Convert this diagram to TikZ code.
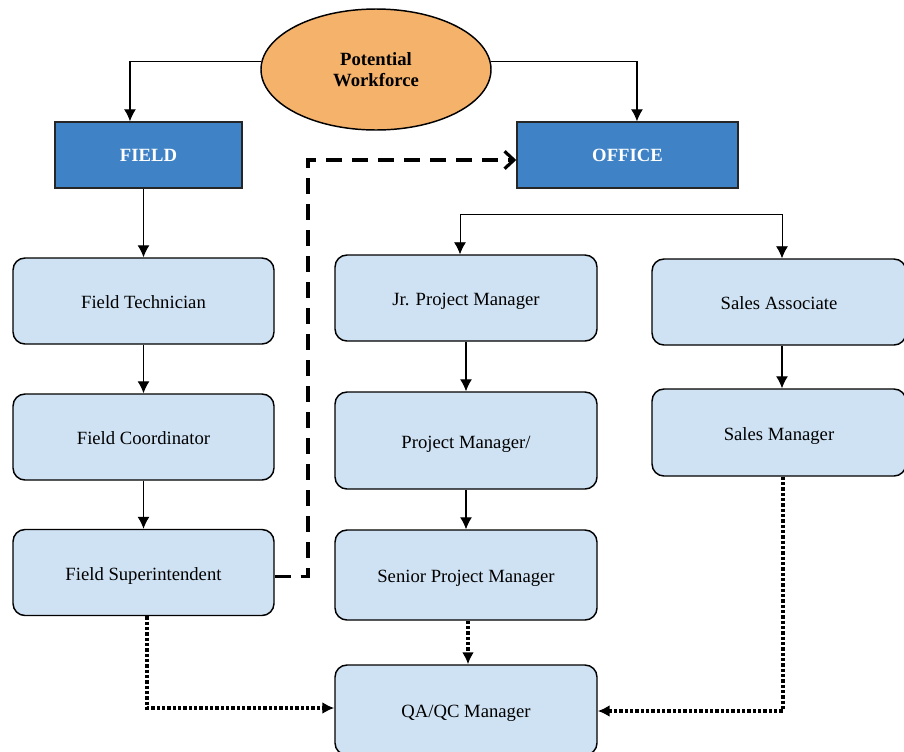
\documentclass[tikz,border=0pt]{standalone}
\usepackage{fontspec}
\setmainfont{Liberation Serif}
\usetikzlibrary{shapes.geometric,arrows.meta}
\definecolor{wforange}{HTML}{F5B26B}
\definecolor{deptblue}{HTML}{3F83C6}
\definecolor{roleblue}{HTML}{CFE2F3}
\begin{document}
\begin{tikzpicture}[x=0.75pt, y=-0.75pt, >={Latex[length=9pt,width=9pt]},
    font=\fontsize{14}{16}\selectfont,
    role/.style={draw, line width=1.1pt, fill=roleblue, rounded corners=9pt, minimum width=195.75pt, minimum height=64.5pt, inner sep=0pt, text height=12.5pt, text depth=1pt},
    dept/.style={draw=black!85, line width=1.1pt, fill=deptblue, text=white, font=\fontsize{14}{16}\selectfont\bfseries, minimum height=49.5pt},
    link/.style={->, line width=0.8pt},
    dotlink/.style={->, line width=2.3pt, dash pattern=on 2.5pt off 1.5pt},
    ]
    \useasboundingbox (0,0) rectangle (904,751);

    \node[ellipse, draw, line width=1.1pt, fill=wforange, minimum width=172.5pt, minimum height=90.75pt, inner sep=0pt, align=center, font=\fontsize{14}{16}\selectfont\bfseries] (pw) at (376,69.5) {Potential\\Workforce};
    \node[dept, minimum width=140.25pt] (field) at (148.5,155) {FIELD};
    \node[dept, minimum width=165.75pt] (office) at (627.5,155) {OFFICE};

    \node[role] (tech) at (143.5,301) {Field Technician};
    \node[role] (coord) at (143.5,437) {Field Coordinator};
    \node[role] (super) at (143.5,572.5) {Field Superintendent};

    \node[role, minimum width=196.5pt] (jpm) at (466,298) {Jr. Project Manager};
    \node[role, minimum width=196.5pt, minimum height=72.75pt] (pm) at (466,440.5) {Project Manager/};
    \node[role, minimum width=196.5pt, minimum height=67.5pt] (spm) at (466,575) {Senior Project Manager};
    \node[role, minimum width=196.5pt, minimum height=67.5pt] (qa) at (466,710) {QA/QC Manager};

    \node[role, minimum width=190.5pt] (sales) at (779,302) {Sales Associate};
    \node[role, minimum width=190.5pt, minimum height=65.25pt] (salesmgr) at (779,432.5) {Sales Manager};

    \draw[link] (pw.176) -| ([xshift=-13.9pt]field.north);
    \draw[link] (pw.4) -| ([xshift=7.1pt]office.north);

    \draw[link] (field.south -| tech.north) -- (tech.north);
    \draw[link] (tech) -- (coord);
    \draw[link] (coord) -- (super);

    \coordinate (split) at (621,214);
    \draw[link, line width=0.6pt] (split) -| ([xshift=-4.5pt]jpm.north);
    \draw[link, line width=0.6pt] (split) -| ([xshift=2.25pt]sales.north);
    \draw[link] (jpm) -- (pm);
    \draw[link] (pm) -- (spm);
    \draw[link] ([xshift=2.25pt]sales.south) -- ([xshift=2.25pt]salesmgr.north);

    \coordinate (jog) at (308,160);
    \draw[-{Straight Barb[length=7pt,width=13pt]}, line width=2.4pt, dash pattern=on 12pt off 7.5pt] ([yshift=-3pt]super.east) -| (jog) -- (office.west |- jog);

    \draw[dotlink] ([xshift=2.6pt]super.south) |- ([yshift=1.5pt]qa.west);
    \draw[dotlink] ([xshift=1.5pt]spm.south) -- ([xshift=1.5pt]qa.north);
    \draw[dotlink] ([xshift=3pt]salesmgr.south) |- ([yshift=-0.75pt]qa.east);
\end{tikzpicture}
\end{document}
